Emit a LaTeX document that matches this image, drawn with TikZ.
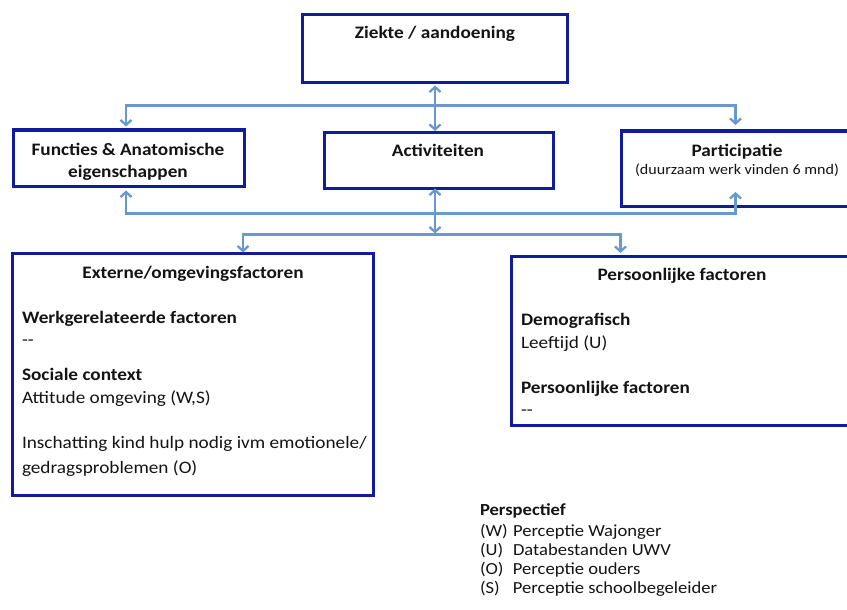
\documentclass[tikz,border=0pt]{standalone}
\usepackage{fontspec}
\setmainfont{Carlito}[FakeStretch=1.1]
\usetikzlibrary{arrows.meta}
\definecolor{boxblue}{RGB}{18,26,158}
\definecolor{arrblue}{RGB}{106,152,206}
\definecolor{txt}{RGB}{20,20,20}
\begin{document}
\begin{tikzpicture}[x=1pt,y=-1pt,
  box/.style={draw=boxblue, line width=3pt, inner sep=0pt, outer sep=0pt, anchor=north west, fill=white},
  arr/.style={draw=arrblue, line width=2.3pt, -{Straight Barb[length=5pt,width=11pt]}},
  dbl/.style={draw=arrblue, line width=2.3pt, {Straight Barb[length=5pt,width=11pt]}-{Straight Barb[length=5pt,width=11pt]}},
  lbl/.style={text=txt, inner sep=0pt, outer sep=0pt, font=\fontsize{17.5}{23}\selectfont},
  bl/.style={lbl, font=\fontsize{17.5}{23}\selectfont\bfseries},
  leg/.style={text=txt, inner sep=0pt, outer sep=0pt, font=\fontsize{16.9}{19}\selectfont}
]
\useasboundingbox (0,0) rectangle (847,610);
\clip (0,0) rectangle (847,610);

% boxes
\node[box, minimum width=265pt, minimum height=68pt] (ziekte) at (302,14.5) {};
\node[box, minimum width=230.5pt, minimum height=56pt] (fun) at (13.5,130) {};
\node[box, minimum width=229.5pt, minimum height=56pt] (act) at (324,132.5) {};
\node[box, minimum width=234pt, minimum height=75pt] (part) at (621,131) {};
\node[box, minimum width=361pt, minimum height=242.5pt] (ext) at (12.5,253) {};
\node[box, minimum width=344pt, minimum height=168.5pt] (pers) at (511,256.5) {};

% box titles
\node[bl, anchor=base] (tz) at (435,39) {Ziekte / aandoening};
\node[bl, anchor=base] (tf1) at (128,155) {Functies \& Anatomische};
\node[bl, anchor=base] (tf2) at (128,177) {eigenschappen};
\node[bl, anchor=base] (ta) at (438,157) {Activiteiten};
\node[bl, anchor=base] (tp1) at (737,156) {Participatie};
\node[lbl, anchor=base, font=\fontsize{14.6}{16}\selectfont] (tp2) at (737,175) {(duurzaam werk vinden 6 mnd)};

% external factors
\node[bl, anchor=base] (te) at (193,278) {Externe/omgevingsfactoren};
\node[bl, anchor=base west] (e1) at (22,323) {Werkgerelateerde factoren};
\node[lbl, anchor=base west] (e2) at (22,345) {-{}-};
\node[bl, anchor=base west] (e3) at (22,380) {Sociale context};
\node[lbl, anchor=base west] (e4) at (22,403) {Attitude omgeving (W,S)};
\node[lbl, anchor=base west] (e5) at (22,448) {Inschatting kind hulp nodig ivm emotionele/};
\node[lbl, anchor=base west] (e6) at (22,473) {gedragsproblemen (O)};

% personal factors
\node[bl, anchor=base] (tpe) at (682,280) {Persoonlijke factoren};
\node[bl, anchor=base west] (p1) at (521,325) {Demografisch};
\node[lbl, anchor=base west] (p2) at (521,348) {Leeftijd (U)};
\node[bl, anchor=base west] (p3) at (521,393) {Persoonlijke factoren};
\node[lbl, anchor=base west] (p4) at (521,415) {-{}-};

% legend
\node[leg, anchor=base west, font=\fontsize{16.9}{19}\selectfont\bfseries] (l0) at (480,515) {Perspectief};
\node[leg, anchor=base west] (l1) at (480,536) {\makebox[33pt][l]{(W)}Perceptie Wajonger};
\node[leg, anchor=base west] (l2) at (480,555) {\makebox[33pt][l]{(U)}Databestanden UWV};
\node[leg, anchor=base west] (l3) at (480,574) {\makebox[33pt][l]{(O)}Perceptie ouders};
\node[leg, anchor=base west] (l4) at (480,593) {\makebox[33pt][l]{(S)}Perceptie schoolbegeleider};

% connectors
\coordinate (t1) at (435,105.5);
\coordinate (jl) at (435,213.5);
\coordinate (t2) at (435,234.5);
\coordinate (pin) at (735.5,192);

\draw[dbl, shorten <=3pt, shorten >=1.5pt] (ziekte.south -| t1) -- (act.north -| t1);
\draw[arr, shorten >=3.5pt] (t1) -| ([xshift=-2.75pt]fun.north);
\draw[arr, shorten >=6pt] (t1) -| ([xshift=-2.5pt]part.north);
\draw[dbl, shorten <=4.5pt] ([xshift=-2.75pt]fun.south) |- (jl) -| (pin);
\draw[dbl, shorten >=1pt] (act.south -| t1) -- (t2);
\draw[arr, shorten >=0.5pt] (t2) -| ([xshift=50pt]ext.north);
\draw[arr, shorten >=3.5pt] (t2) -| ([xshift=-62.5pt]pers.north);
\end{tikzpicture}
\end{document}
